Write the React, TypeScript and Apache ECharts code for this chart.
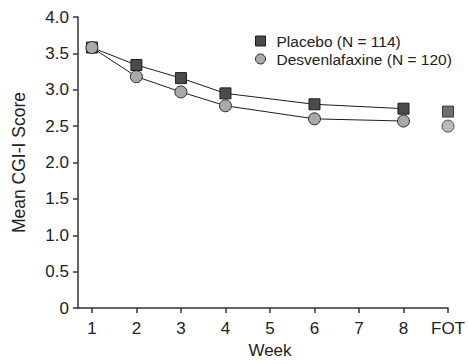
import React, { useEffect, useRef } from "react";
import * as echarts from "echarts";

const weeks = [1, 2, 3, 4, 6, 8];
const fotPos = 9;
const placeboName = "Placebo (N = 114)";
const desvName = "Desvenlafaxine (N = 120)";
const placeboValues = [3.58, 3.34, 3.16, 2.95, 2.8, 2.74];
const placeboFOT = 2.7;
const desvValues = [3.58, 3.18, 2.97, 2.78, 2.6, 2.57];
const desvFOT = 2.5;
const xTickValues = [1, 2, 3, 4, 5, 6, 7, 8, 9];
const xTickLabels = ["1", "2", "3", "4", "5", "6", "7", "8", "FOT"];

const FONT = "'Liberation Sans', Arial, Helvetica, sans-serif";
const TXT = "#222";

export default function App() {
  const ref = useRef<HTMLDivElement>(null);
  useEffect(() => {
    if (!ref.current) return;
    const chart = echarts.init(ref.current, undefined, { renderer: "svg" });
    const placeboStyle = { color: "#4b4b4b", borderColor: "#1e1e1e", borderWidth: 1 };
    const desvStyle = { color: "#a9a9a9", borderColor: "#2a2a2a", borderWidth: 1 };
    chart.setOption({
      animation: false,
      textStyle: { fontFamily: FONT },
      grid: { left: 78, right: 18, top: 17, bottom: 47, containLabel: false },
      legend: {
        orient: "vertical",
        left: 250,
        top: 28,
        itemWidth: 10,
        itemHeight: 10,
        itemGap: 2,
        textStyle: { fontFamily: FONT, fontSize: 15.5, color: TXT, padding: [0, 0, 0, 6] },
        data: [
          { name: placeboName, icon: "rect", itemStyle: placeboStyle },
          { name: desvName, icon: "circle", itemStyle: desvStyle },
        ],
      },
      xAxis: {
        type: "value",
        min: 0.6875,
        max: 9,
        name: "Week",
        nameLocation: "middle",
        nameGap: 34,
        nameTextStyle: { fontFamily: FONT, fontSize: 17, color: TXT, padding: [0, 0, 0, 14] },
        axisLine: { lineStyle: { color: "#333", width: 1.5 } },
        axisTick: { show: true, inside: false, length: 5, customValues: xTickValues, lineStyle: { color: "#333", width: 1.5 } },
        axisLabel: {
          customValues: xTickValues,
          formatter: (v: number) => xTickLabels[xTickValues.indexOf(v)] ?? "",
          fontFamily: FONT,
          fontSize: 17,
          color: TXT,
          margin: 12,
        },
        splitLine: { show: false },
      },
      yAxis: {
        type: "value",
        min: 0,
        max: 4,
        interval: 0.5,
        name: "Mean CGI-I Score",
        nameLocation: "middle",
        nameGap: 50,
        nameTextStyle: { fontFamily: FONT, fontSize: 17.5, color: TXT },
        axisLine: { show: true, lineStyle: { color: "#333", width: 1.5 } },
        axisTick: { show: true, length: 5, lineStyle: { color: "#333", width: 1.5 } },
        axisLabel: {
          formatter: (v: number) => (v === 0 ? "0" : v.toFixed(1)),
          fontFamily: FONT,
          fontSize: 17,
          color: TXT,
          margin: 9,
        },
        splitLine: { show: false },
      },
      series: [
        {
          name: placeboName,
          type: "line",
          data: weeks.map((w, i) => [w, placeboValues[i]]),
          symbol: "rect",
          symbolSize: 11,
          itemStyle: placeboStyle,
          lineStyle: { color: "#1e1e1e", width: 1 },
          z: 2,
        },
        {
          name: placeboName,
          type: "scatter",
          data: [[fotPos, placeboFOT]],
          symbol: "rect",
          symbolSize: 11,
          itemStyle: placeboStyle,
          z: 2,
        },
        {
          name: desvName,
          type: "line",
          data: weeks.map((w, i) => [w, desvValues[i]]),
          symbol: "circle",
          symbolSize: 12,
          itemStyle: desvStyle,
          lineStyle: { color: "#1e1e1e", width: 1 },
          z: 3,
        },
        {
          name: desvName,
          type: "scatter",
          data: [[fotPos, desvFOT]],
          symbol: "circle",
          symbolSize: 12,
          itemStyle: desvStyle,
          z: 3,
        },
      ],
    });
    return () => chart.dispose();
  }, []);
  return <div ref={ref} style={{ position: "absolute", left: 0, top: 0, width: 468, height: 364 }} />;
}
